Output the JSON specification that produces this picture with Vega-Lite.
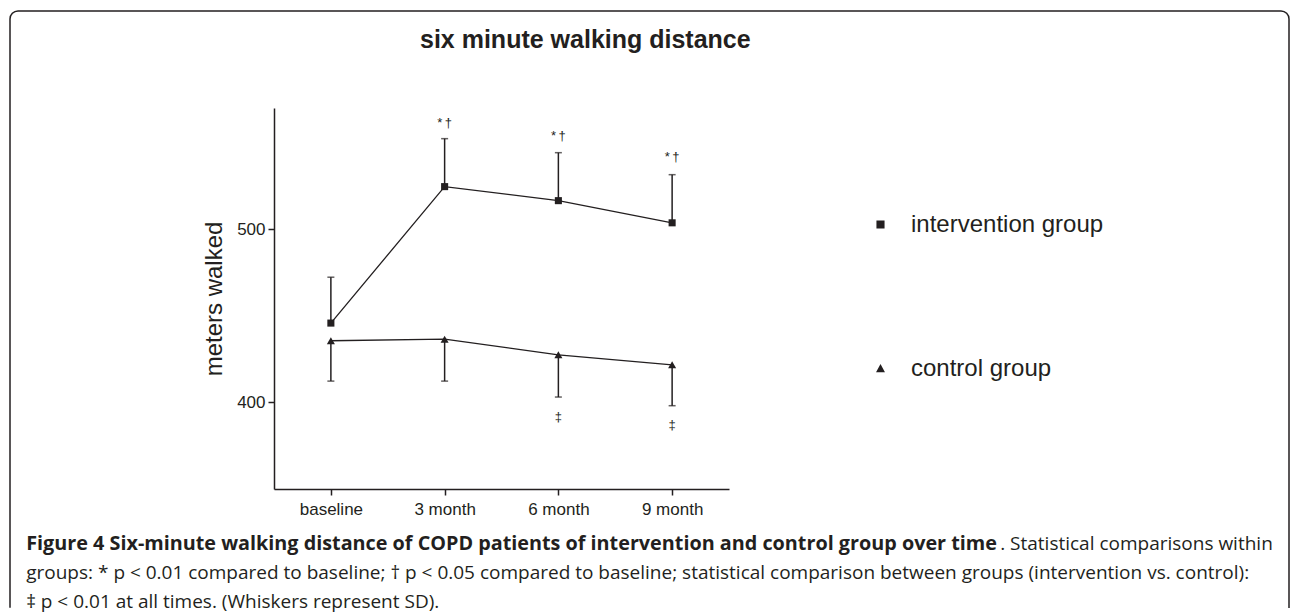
{
  "$schema": "https://vega.github.io/schema/vega-lite/v6.json",
  "background": "white",
  "padding": {"left": 9, "top": 10, "right": 0, "bottom": 0},
  "autosize": {"type": "pad"},
  "config": {
    "view": {"stroke": null},
    "font": "Liberation Sans",
    "text": {"color": "#231f20"}
  },
  "datasets": {
    "walk": [
      {"time": "baseline", "group": "intervention group", "mean": 445.8, "whisker": 472.3},
      {"time": "3 month", "group": "intervention group", "mean": 524.6, "whisker": 552.3},
      {"time": "6 month", "group": "intervention group", "mean": 516.5, "whisker": 544.2},
      {"time": "9 month", "group": "intervention group", "mean": 503.7, "whisker": 531.5},
      {"time": "baseline", "group": "control group", "mean": 435.6, "whisker": 412.3},
      {"time": "3 month", "group": "control group", "mean": 436.5, "whisker": 412.3},
      {"time": "6 month", "group": "control group", "mean": 427.5, "whisker": 403.1},
      {"time": "9 month", "group": "control group", "mean": 421.7, "whisker": 398.1}
    ],
    "marks": [
      {"time": "3 month", "value": 561.2, "label": "*\u2009†"},
      {"time": "6 month", "value": 553.8, "label": "*\u2009†"},
      {"time": "9 month", "value": 541.5, "label": "*\u2009†"},
      {"time": "6 month", "value": 391.3, "label": "‡"},
      {"time": "9 month", "value": 387.1, "label": "‡"}
    ],
    "caption": [
      {"line": 1, "anchor": "start", "weight": "bold", "text": "Figure 4 Six-minute walking distance of COPD patients of intervention and control group over time"},
      {"line": 1, "anchor": "end", "weight": "normal", "text": ". Statistical comparisons within"},
      {"line": 2, "anchor": "start", "weight": "normal", "text": "groups: * p < 0.01 compared to baseline; † p < 0.05 compared to baseline; statistical comparison between groups (intervention vs. control):"},
      {"line": 3, "anchor": "start", "weight": "normal", "text": "‡ p < 0.01 at all times. (Whiskers represent SD)."}
    ]
  },
  "align": "none",
  "spacing": -589,
  "vconcat": [
    {
      "width": 1279,
      "height": 605,
      "view": {"stroke": "#231f20", "strokeWidth": 1.5, "cornerRadius": 8, "strokeDash": [1864.6, 1288.1, 601.6, 10]},
      "data": {"name": "caption"},
      "encoding": {
        "x": {"field": "anchor", "type": "nominal", "scale": {"type": "point", "domain": ["start", "end"], "padding": 0.013}, "axis": null},
        "y": {"field": "line", "type": "quantitative", "scale": {"domain": [-17.586, 3.276], "reverse": true}, "axis": null},
        "text": {"field": "text"}
      },
      "layer": [
        {"transform": [{"filter": "datum.weight === 'bold'"}], "mark": {"type": "text", "align": "left", "baseline": "alphabetic", "font": "Open Sans", "fontSize": 19.8, "fontWeight": "bold", "color": "#231f20"}},
        {"transform": [{"filter": "datum.weight === 'normal' && datum.anchor === 'start'"}], "mark": {"type": "text", "align": "left", "baseline": "alphabetic", "font": "Open Sans", "fontSize": 19, "color": "#231f20"}},
        {"transform": [{"filter": "datum.weight === 'normal' && datum.anchor === 'end'"}], "mark": {"type": "text", "align": "right", "baseline": "alphabetic", "font": "Open Sans", "fontSize": 19, "color": "#231f20"}}
      ]
    },
    {
      "spacing": 0,
      "hconcat": [
        {"width": 192, "height": 1, "data": {"values": [{}]}, "mark": {"type": "point", "opacity": 0}, "encoding": {}},
        {
          "width": 455,
          "height": 381,
          "title": {"text": "six minute walking distance", "frame": "group", "anchor": "start", "dx": 146, "offset": 55, "font": "Liberation Sans", "fontSize": 25, "fontWeight": "bold", "color": "#231f20"},
          "data": {"name": "walk"},
          "encoding": {
            "x": {"field": "time", "type": "ordinal", "sort": ["baseline", "3 month", "6 month", "9 month"], "scale": {"type": "point", "padding": 0.5},
              "axis": {"title": null, "labelAngle": 0, "labelFontSize": 17, "labelFont": "Liberation Sans", "labelColor": "#231f20", "labelPadding": 6, "tickSize": 6, "tickWidth": 1.5, "tickColor": "#231f20", "domainColor": "#231f20", "domainWidth": 1.5, "grid": false}}
          },
          "layer": [
            {"mark": {"type": "rule", "strokeWidth": 1.5, "color": "#231f20"},
              "encoding": {
                "y": {"field": "mean", "type": "quantitative", "scale": {"domain": [350, 570], "nice": false, "zero": false},
                  "axis": {"values": [400, 500], "title": "meters walked", "titleFontSize": 24, "titleFontWeight": "normal", "titleFont": "Liberation Sans", "titleColor": "#231f20", "titlePadding": 10, "labelFontSize": 17, "labelFont": "Liberation Sans", "labelColor": "#231f20", "labelPadding": 3, "tickSize": 6, "tickWidth": 1.5, "tickColor": "#231f20", "domainColor": "#231f20", "domainWidth": 1.5, "grid": false}},
                "y2": {"field": "whisker"}
              }},
            {"mark": {"type": "tick", "orient": "horizontal", "size": 7, "thickness": 1.5, "color": "#231f20"},
              "encoding": {"y": {"field": "whisker", "type": "quantitative"}}},
            {"mark": {"type": "line", "strokeWidth": 1.3, "color": "#231f20"},
              "encoding": {"y": {"field": "mean", "type": "quantitative"}, "detail": {"field": "group"}}},
            {"transform": [{"filter": "datum.group === 'intervention group'"}],
              "mark": {"type": "point", "shape": "square", "filled": true, "opacity": 1, "color": "#231f20", "size": 50},
              "encoding": {"y": {"field": "mean", "type": "quantitative"}}},
            {"transform": [{"filter": "datum.group === 'control group'"}],
              "mark": {"type": "point", "shape": "triangle-up", "filled": true, "opacity": 1, "color": "#231f20", "size": 65},
              "encoding": {"y": {"field": "mean", "type": "quantitative"}}},
            {"mark": {"type": "point", "filled": false, "fill": "#231f20", "stroke": "#231f20", "strokeWidth": 1.2, "opacity": 0, "size": 50},
              "encoding": {
                "y": {"field": "mean", "type": "quantitative"},
                "shape": {"field": "group", "type": "nominal",
                  "scale": {"domain": ["intervention group", "control group"], "range": ["M-1,0H1M-0.3,-0.3H0.3V0.3H-0.3Z", "M-1,0H1M0,-0.33L0.33,0.28H-0.33Z"]},
                  "legend": {"title": null, "orient": "none", "legendX": 856, "legendY": 199, "padding": 0,
                    "labelFontSize": 24, "labelFont": "Liberation Sans", "labelColor": "#231f20", "labelOffset": 16, "labelLimit": 400,
                    "rowPadding": 117, "symbolSize": 730, "symbolOpacity": 1,
                    "symbolFillColor": "#231f20", "symbolStrokeColor": "#231f20", "symbolStrokeWidth": 1.2}
                }
              }},
            {"data": {"name": "marks"}, "mark": {"type": "text", "fontSize": 13, "font": "Liberation Sans", "color": "#231f20", "fill": "#231f20"},
              "encoding": {"y": {"field": "value", "type": "quantitative"}, "text": {"field": "label"}}}
          ]
        }
      ]
    }
  ]
}
